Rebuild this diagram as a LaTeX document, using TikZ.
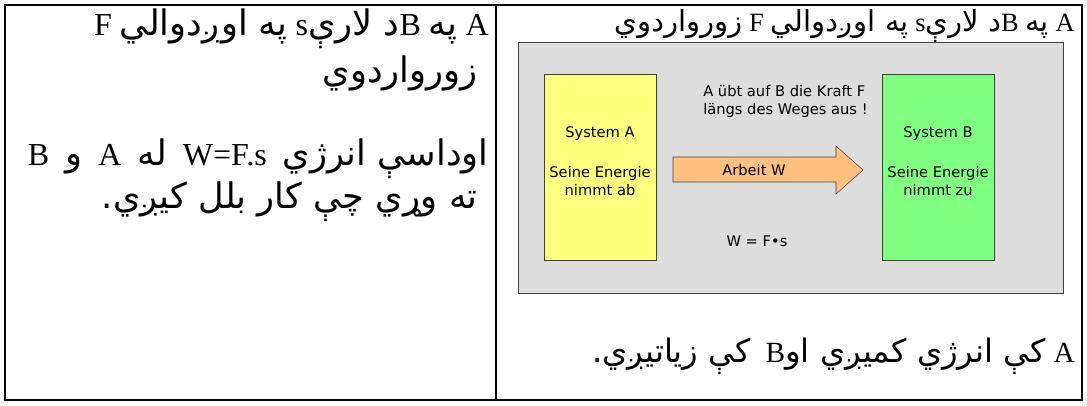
\documentclass[tikz,border=0pt]{standalone}
\usepackage{fontspec}
\setmainfont{Liberation Serif}
\newfontfamily\arabicfont[Script=Arabic, Scale=1.1]{DejaVu Sans}
\newfontfamily\guifont{DejaVu Sans}
\TeXXeTstate=1
\usetikzlibrary{positioning}

\newcommand{\pst}[1]{{\arabicfont #1}}

\definecolor{panelgray}{HTML}{DDDDDD}
\definecolor{sysyellow}{HTML}{FFFF80}
\definecolor{sysgreen}{HTML}{80FF80}
\definecolor{workorange}{HTML}{FFC080}
\definecolor{edgegray}{HTML}{404040}

\begin{document}
\begin{tikzpicture}[x=0.75pt, y=-0.75pt,
    frame/.style={line width=1.5pt},
    pashto/.style={anchor=base east, inner sep=0pt, font=\fontsize{24}{28}\selectfont},
    pashtomid/.style={pashto, font=\fontsize{22}{26}\selectfont},
    pashtosmall/.style={pashto, font=\fontsize{19.8}{23}\selectfont},
    gui/.style={inner sep=0pt, font=\guifont\fontsize{11}{13.5}\selectfont},
    sysbox/.style={draw=edgegray, line width=0.75pt, minimum width=84pt, minimum height=139.5pt}
]
    \useasboundingbox (0,0) rectangle (1087,405);

    % Table
    \draw[frame] (5,5) rectangle (1082,400);
    \draw[frame] (496,5) -- (496,400);

    % Left cell
    \node[pashto] (l1) at (489,35) {\beginR A \pst{په} B\pst{د لارې}s \pst{په اوږدوالي} F\endR};
    \node[pashto] (l2) at (478,82) {\beginR\pst{زورواردوي}\endR};
    \node[pashto] (l3) at (489,165) {\beginR\pst{اوداسې انرژي}\ \ \beginL W=F.s\endL\ \ \pst{له}\ \ A\ \ \pst{و}\ \ B\endR};
    \node[pashto] (l4) at (478,208) {\beginR\pst{ته وړي چې كار بلل كيږي.}\endR};

    % Right cell, heading
    \node[pashtosmall] (r1) at (1075,31) {\beginR A \pst{په} B\pst{د لارې}s \pst{په اوږدوالي} F \pst{زورواردوي}\endR};

    % Picture
    \draw[edgegray, fill=panelgray] (518,42) rectangle (1063,293);
    \node[sysbox, fill=sysyellow] (sysA) at (600,167) {};
    \node[sysbox, fill=sysgreen] (sysB) at (938,167) {};
    \node[gui, align=center, yshift=4.5pt] (textA) at (sysA.center) {System A\\[16.5pt]Seine Energie\\nimmt ab};
    \node[gui, align=center, yshift=4.5pt] (textB) at (sysB.center) {System B\\[16.5pt]Seine Energie\\nimmt zu};
    \draw[edgegray, fill=workorange] (673,157) -- (836,157) -- (836,146) -- (863,170)
        -- (836,194) -- (836,182) -- (673,182) -- cycle;
    \node[gui] (work) at (754,170) {Arbeit W};
    \node[gui, anchor=west, align=left] (force) at (703,101) {A übt auf B die Kraft F\\längs des Weges aus !};
    \node[gui] (law) at (757,241) {W = F•s};

    % Right cell, result
    \node[pashtomid] (r2) at (1075,362) {\beginR A \pst{كې انرژي كميږي او}B\ \ \pst{كې زياتيږي.}\endR};
\end{tikzpicture}
\end{document}
